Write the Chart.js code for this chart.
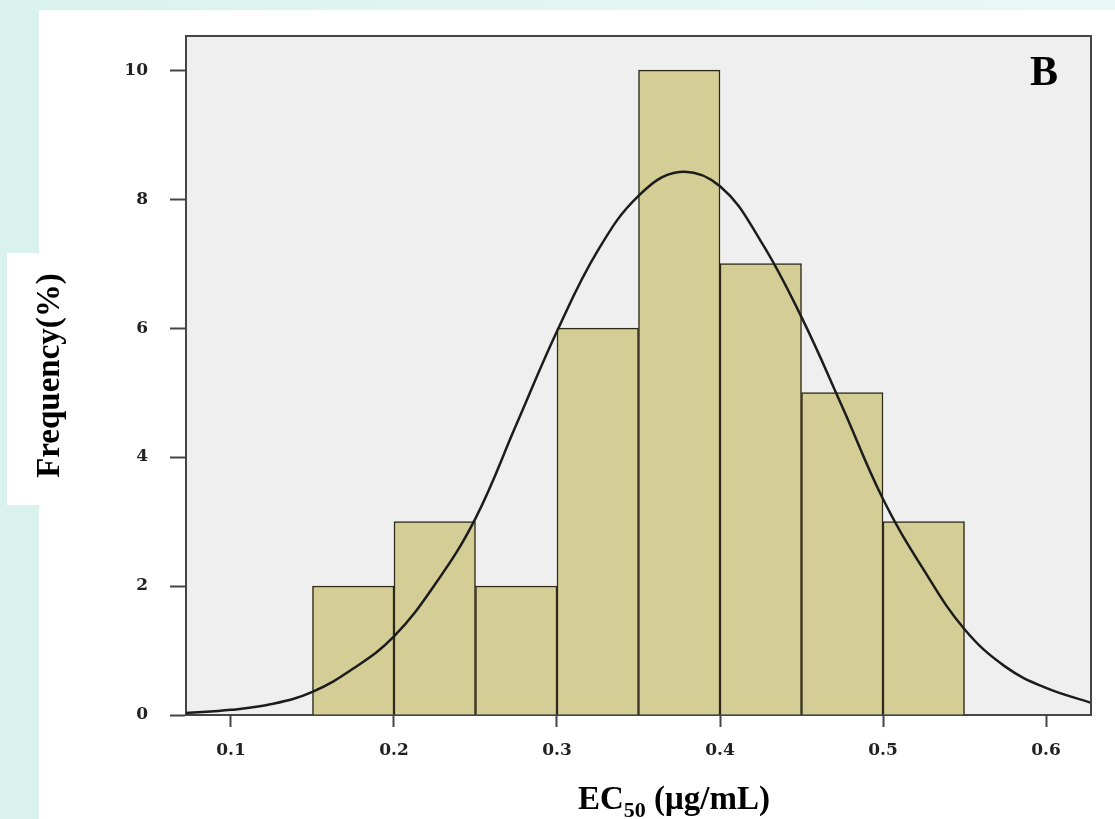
<!DOCTYPE html>
<html>
<head>
<meta charset="utf-8">
<title>EC50 histogram</title>
<script src="https://cdn.jsdelivr.net/npm/chart.js@4.4.1/dist/chart.umd.min.js"></script>
<style>
  html, body { margin: 0; padding: 0; }
  body {
    width: 1115px; height: 819px; overflow: hidden; position: relative;
    background: linear-gradient(90deg, #d9f2ec 0%, #e3f6f1 60%, #e9f8f5 100%);
  }
  #panel { position: absolute; left: 39px; top: 10px; width: 1076px; height: 809px; background: #fff; }
  #ybox { position: absolute; left: 7px; top: 253px; width: 32px; height: 252px; background: #fff; }
  #wrap { position: absolute; left: 0; top: 0; width: 1115px; height: 819px; }
</style>
</head>
<body>
<div id="panel"></div>
<div id="ybox"></div>
<div id="wrap"><canvas id="chart" width="1115" height="819"></canvas></div>
<script>
// histogram bins (lower edge) and counts
const binStarts = [0.15, 0.20, 0.25, 0.30, 0.35, 0.40, 0.45, 0.50];
const binWidth = 0.05;
const counts = [2, 3, 2, 6, 10, 7, 5, 3];

// fitted normal curve
const curveX = [0.0724, 0.1, 0.125, 0.15, 0.175, 0.2, 0.225, 0.25, 0.275, 0.3, 0.325, 0.35,
                0.375, 0.4, 0.425, 0.45, 0.475, 0.5, 0.525, 0.55, 0.575, 0.6, 0.6276];
const curveY = [0.03, 0.08, 0.17, 0.36, 0.72, 1.22, 2.02, 3.05, 4.5, 5.95, 7.2, 8.05,
                8.42, 8.2, 7.35, 6.17, 4.78, 3.35, 2.25, 1.33, 0.75, 0.42, 0.19];

// axes
const xTicks = [0.1, 0.2, 0.3, 0.4, 0.5, 0.6];
const yTicks = [0, 2, 4, 6, 8, 10];
const xMin = 0.0724, xMax = 0.6276;
const yMin = 0, yMax = 10.53;

const axisColor = '#454545';
const tickFont = { family: 'DejaVu Serif', weight: 'bold', size: 17 };

// plot background, top/right frame, panel letter and x title with subscript
const decor = {
  id: 'decor',
  beforeDraw(chart) {
    const { ctx, chartArea: a } = chart;
    ctx.save();
    ctx.fillStyle = '#efefef';
    ctx.fillRect(a.left, a.top, a.right - a.left, a.bottom - a.top);
    ctx.restore();
  },
  afterDraw(chart) {
    const { ctx, chartArea: a } = chart;
    ctx.save();
    ctx.strokeStyle = axisColor;
    ctx.lineWidth = 2;
    ctx.beginPath();
    ctx.moveTo(a.left, a.top);
    ctx.lineTo(a.right, a.top);
    ctx.lineTo(a.right, a.bottom);
    ctx.stroke();

    ctx.fillStyle = '#000';
    ctx.font = 'bold 42px "Liberation Serif"';
    ctx.textAlign = 'right';
    ctx.textBaseline = 'alphabetic';
    ctx.fillText('B', 1058, 85);

    // EC50 (µg/mL)
    const big = 'bold 33px "Liberation Serif"';
    const small = 'bold 22px "Liberation Serif"';
    ctx.textAlign = 'left';
    ctx.font = big;
    const w1 = ctx.measureText('EC').width;
    const w3 = ctx.measureText(' (μg/mL)').width;
    ctx.font = small;
    const w2 = ctx.measureText('50').width;
    let x = 674 - (w1 + w2 + w3) / 2;
    const base = 809;
    ctx.font = big;
    ctx.fillText('EC', x, base);
    x += w1;
    ctx.font = small;
    ctx.fillText('50', x, base + 8);
    x += w2;
    ctx.font = big;
    ctx.fillText(' (μg/mL)', x, base);
    ctx.restore();
  }
};

new Chart(document.getElementById('chart'), {
  data: {
    datasets: [
      {
        type: 'line',
        order: 0,
        data: curveX.map((v, i) => ({ x: v, y: curveY[i] })),
        borderColor: '#1c1c1c',
        borderWidth: 2.5,
        pointRadius: 0,
        tension: 0.4,
        fill: false
      },
      {
        type: 'bar',
        order: 1,
        data: binStarts.map((s, i) => ({ x: s + binWidth / 2, y: counts[i] })),
        backgroundColor: '#d4ce96',
        borderColor: '#2e2a18',
        borderWidth: 1.5,
        barPercentage: 1,
        categoryPercentage: 1
      }
    ]
  },
  options: {
    responsive: false,
    animation: false,
    events: [],
    layout: { padding: { top: 36, right: 24, left: 0, bottom: 0 } },
    plugins: { legend: { display: false }, tooltip: { enabled: false } },
    scales: {
      x: {
        type: 'linear',
        min: xMin,
        max: xMax,
        offset: false,
        afterFit: s => { s.height = 104; },
        afterBuildTicks: s => { s.ticks = xTicks.map(v => ({ value: v })); },
        grid: { offset: false, drawOnChartArea: false, drawTicks: true, tickLength: 12, tickWidth: 2, tickColor: axisColor },
        border: { display: true, color: axisColor, width: 2 },
        ticks: { font: tickFont, color: '#222', padding: 13, maxRotation: 0, callback: v => v.toFixed(1) }
      },
      y: {
        min: yMin,
        max: yMax,
        afterFit: s => { s.width = 186; },
        afterBuildTicks: s => { s.ticks = yTicks.map(v => ({ value: v })); },
        grid: { drawOnChartArea: false, drawTicks: true, tickLength: 16, tickWidth: 2, tickColor: axisColor },
        border: { display: true, color: axisColor, width: 2 },
        ticks: { font: tickFont, color: '#222', padding: 22, callback: v => String(v) },
        title: {
          display: true,
          text: 'Frequency(%)',
          color: '#000',
          font: { family: 'Liberation Serif', weight: 'bold', size: 33 },
          padding: { top: 31, bottom: 0 }
        }
      }
    }
  },
  plugins: [decor]
});
</script>
</body>
</html>
